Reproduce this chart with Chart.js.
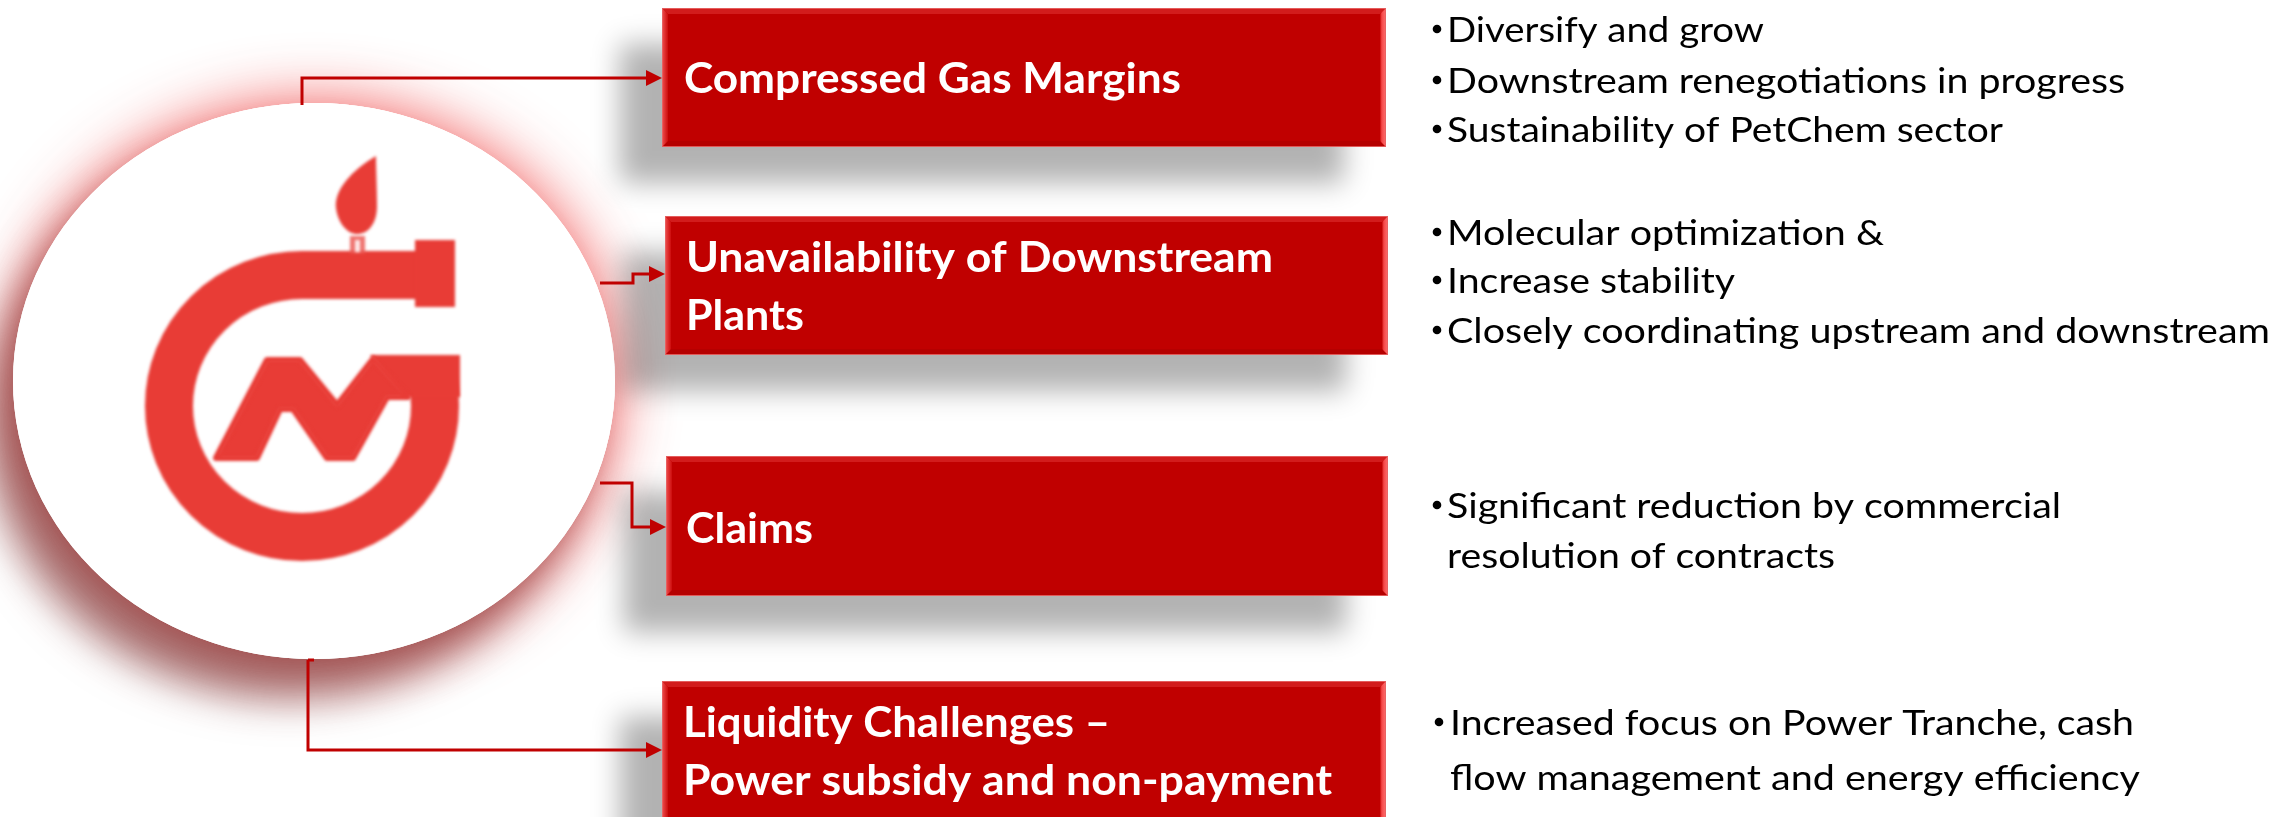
<!DOCTYPE html>
<html>
<head>
<meta charset="utf-8">
<script src="https://cdn.jsdelivr.net/npm/chart.js@4.4.1/dist/chart.umd.min.js"></script>
<style>
  html, body { margin: 0; padding: 0; background: #fff; overflow: hidden; }
  #chart { display: block; }
</style>
</head>
<body>
<canvas id="chart" width="2289" height="817"></canvas>
<script>
// ====== diagram text =========
const titles = [
  ["Compressed Gas Margins"],
  ["Unavailability of Downstream", "Plants"],
  ["Claims"],
  ["Liquidity Challenges \u2013", "Power subsidy and non-payment"],
];

// each bullet is a list of its wrapped lines
const gasBullets = [
  ["Diversify and grow"],
  ["Downstream renegotiations in progress"],
  ["Sustainability of PetChem sector"],
];
const plantBullets = [
  ["Molecular optimization &"],
  ["Increase stability"],
  ["Closely coordinating upstream and downstream"],
];
const claimBullets = [
  ["Significant reduction by commercial", "resolution of contracts"],
];
const liquidityBullets = [
  ["Increased focus on Power Tranche, cash", "flow management and energy efficiency"],
];
const bulletGroups = [gasBullets, plantBullets, claimBullets, liquidityBullets];

// ====== layout (picture coordinates) =========
const W = 2289, H = 817;
const RED = "#c00000";
const LOGO = "#e83c36";

const boxes = [
  { x0: 662, y0: 8, x1: 1386, y1: 147, tx: 684, base: [93], widths: [497] },
  { x0: 665, y0: 216, x1: 1388, y1: 355, tx: 686, base: [272, 330], widths: [587, 118] },
  { x0: 666, y0: 456, x1: 1388, y1: 596, tx: 686, base: [543], widths: [127] },
  { x0: 662, y0: 681, x1: 1386, y1: 840, tx: 683, base: [737, 795], widths: [427, 649] },
];

const bulletLayout = [
  { dot: 1437, tx: 1447, base: [42, 93, 142], widths: [317, 678, 556] },
  { dot: 1437, tx: 1447, base: [245, 293, 343], widths: [437, 288, 823] },
  { dot: 1437, tx: 1447, base: [518, 568], widths: [614, 388] },
  { dot: 1439, tx: 1450, base: [735, 790], widths: [684, 690] },
];

const connectors = [
  [[302, 105], [302, 78], [662, 78]],
  [[600, 283], [633, 283], [633, 274], [665, 274]],
  [[600, 483], [632, 483], [632, 527], [666, 527]],
  [[308, 660], [308, 750], [662, 750]],
];

const disc = { cx: 314, cy: 381, rx: 301, ry: 278 };

const diagram = {
  id: "diagram",
  afterDraw(chart) {
    const ctx = chart.ctx;
    const X = (v) => chart.scales.x.getPixelForValue(v);
    const Y = (v) => chart.scales.y.getPixelForValue(v);
    const DX = (v) => X(v) - X(0);
    const DY = (v) => Y(v) - Y(0);

    function poly(pts, fill) {
      ctx.beginPath();
      pts.forEach((p, i) => (i ? ctx.lineTo(X(p[0]), Y(p[1])) : ctx.moveTo(X(p[0]), Y(p[1]))));
      ctx.closePath();
      ctx.fillStyle = fill;
      ctx.fill();
    }

    function discPath() {
      ctx.beginPath();
      ctx.ellipse(X(disc.cx), Y(disc.cy), DX(disc.rx), DY(disc.ry), 0, 0, Math.PI * 2);
    }

    function fitText(text, x, y, width) {
      const w = ctx.measureText(text).width;
      ctx.save();
      ctx.translate(X(x), Y(y));
      ctx.scale(DX(width) / w, 1);
      ctx.fillText(text, 0, 0);
      ctx.restore();
    }

    ctx.save();

    // ---- pink glow and dark shadow round the disc
    ctx.save();
    discPath();
    ctx.fillStyle = "#fff";
    ctx.shadowColor = "rgba(240,60,60,0.85)";
    ctx.shadowBlur = 60;
    ctx.fill();
    ctx.shadowColor = "rgba(110,35,35,0.6)";
    ctx.shadowBlur = 40;
    ctx.shadowOffsetX = -26;
    ctx.shadowOffsetY = 40;
    ctx.fill();
    ctx.restore();

    // ---- box shadows
    boxes.forEach((b) => {
      ctx.save();
      ctx.shadowColor = "rgba(0,0,0,0.3)";
      ctx.shadowBlur = 26;
      ctx.shadowOffsetX = -42;
      ctx.shadowOffsetY = 36;
      ctx.fillStyle = RED;
      ctx.fillRect(X(b.x0), Y(b.y0), DX(b.x1 - b.x0), DY(b.y1 - b.y0));
      ctx.restore();
    });

    // ---- white disc
    discPath();
    ctx.fillStyle = "#fff";
    ctx.fill();

    // ---- connectors
    ctx.strokeStyle = RED;
    ctx.fillStyle = RED;
    ctx.lineWidth = 3;
    connectors.forEach((c) => {
      const last = c[c.length - 1];
      ctx.beginPath();
      c.forEach((p, i) => {
        let px = p[0];
        if (i === c.length - 1) px = last[0] - 15;
        i ? ctx.lineTo(X(px), Y(p[1])) : ctx.moveTo(X(px), Y(p[1]));
      });
      ctx.stroke();
      poly([[last[0], last[1]], [last[0] - 16, last[1] - 8], [last[0] - 16, last[1] + 8]], RED);
    });
    ctx.beginPath();
    ctx.moveTo(X(308), Y(660));
    ctx.lineTo(X(314), Y(660));
    ctx.stroke();

    // ---- logo
    ctx.save();
    ctx.filter = "blur(1.6px)";
    ctx.strokeStyle = LOGO;
    ctx.lineWidth = DX(48);
    ctx.lineCap = "butt";
    ctx.beginPath();
    ctx.moveTo(X(420), Y(275));
    ctx.lineTo(X(302), Y(275));
    ctx.ellipse(X(302), Y(406), DX(133), DY(131), 0, -Math.PI / 2, -0.25, true);
    ctx.stroke();
    poly([[415, 240], [455, 240], [455, 307], [415, 307]], LOGO); // flange
    poly([[370, 355], [460, 355], [460, 397], [405, 397]], LOGO); // right bar
    ctx.lineJoin = "round";
    ctx.lineWidth = DX(6);
    const wave = [
      [216, 458], [267, 360], [300, 360], [337, 405], [373, 359],
      [408, 397], [387, 397], [353, 458], [327, 458], [293, 409], [280, 409], [257, 458],
    ];
    poly(wave, LOGO);
    ctx.stroke();
    // flame
    ctx.beginPath();
    ctx.moveTo(X(376), Y(156));
    ctx.bezierCurveTo(X(352), Y(170), X(334), Y(190), X(336), Y(208));
    ctx.bezierCurveTo(X(338), Y(224), X(348), Y(234), X(357), Y(234));
    ctx.bezierCurveTo(X(368), Y(234), X(377), Y(224), X(377), Y(206));
    ctx.bezierCurveTo(X(377), Y(188), X(376), Y(170), X(376), Y(156));
    ctx.closePath();
    ctx.fillStyle = LOGO;
    ctx.fill();
    poly([[350, 236], [365, 236], [365, 254], [350, 254]], "rgba(235,80,75,0.8)");
    poly([[355, 240], [360, 240], [360, 252], [355, 252]], "rgba(255,240,240,0.95)");
    ctx.restore();

    // ---- red boxes with bevel
    const e = 6;
    boxes.forEach((b) => {
      const { x0, y0, x1, y1 } = b;
      ctx.fillStyle = RED;
      ctx.fillRect(X(x0), Y(y0), DX(x1 - x0), DY(y1 - y0));
      poly([[x0, y0], [x1, y0], [x1 - e, y0 + e], [x0 + e, y0 + e]], "#d21c1c");
      poly([[x0, y1], [x1, y1], [x1 - e, y1 - e], [x0 + e, y1 - e]], "#b50000");
      let g = ctx.createLinearGradient(X(x0), 0, X(x0 + e), 0);
      g.addColorStop(0, "#f05050");
      g.addColorStop(1, "#cc0c0c");
      poly([[x0, y0], [x0 + e, y0 + e], [x0 + e, y1 - e], [x0, y1]], g);
      g = ctx.createLinearGradient(X(x1 - e), 0, X(x1), 0);
      g.addColorStop(0, "#c80808");
      g.addColorStop(0.3, "#f44848");
      g.addColorStop(1, "#ff7070");
      poly([[x1, y0], [x1 - e, y0 + e], [x1 - e, y1 - e], [x1, y1]], g);
      ctx.lineWidth = 1;
      ctx.strokeStyle = "rgba(230,100,100,0.9)";
      ctx.strokeRect(X(x0) + 0.5, Y(y0) + 0.5, DX(x1 - x0) - 1, DY(y1 - y0) - 1);
    });

    // ---- box titles
    ctx.fillStyle = "#fff";
    ctx.font = "bold 42px Lato";
    ctx.textBaseline = "alphabetic";
    ctx.textAlign = "left";
    titles.forEach((lines, i) => {
      const b = boxes[i];
      lines.forEach((t, j) => fitText(t, b.tx, b.base[j], b.widths[j]));
    });

    // ---- bullets
    ctx.font = "35px Lato";
    bulletGroups.forEach((group, i) => {
      const L = bulletLayout[i];
      let k = 0;
      group.forEach((lines) => {
        ctx.fillStyle = "#000";
        ctx.beginPath();
        ctx.arc(X(L.dot), Y(L.base[k] - 13), DX(4.3), 0, Math.PI * 2);
        ctx.fill();
        lines.forEach((t) => {
          fitText(t, L.tx, L.base[k], L.widths[k]);
          k++;
        });
      });
    });

    ctx.restore();
  },
};

new Chart(document.getElementById("chart"), {
  type: "scatter",
  data: { datasets: [{ data: [], showLine: false }] },
  options: {
    responsive: false,
    animation: false,
    events: [],
    layout: { padding: 0 },
    plugins: { legend: { display: false }, tooltip: { enabled: false } },
    scales: {
      x: { type: "linear", min: 0, max: W, display: false },
      y: { type: "linear", min: 0, max: H, reverse: true, display: false },
    },
  },
  plugins: [diagram],
});
</script>
</body>
</html>
